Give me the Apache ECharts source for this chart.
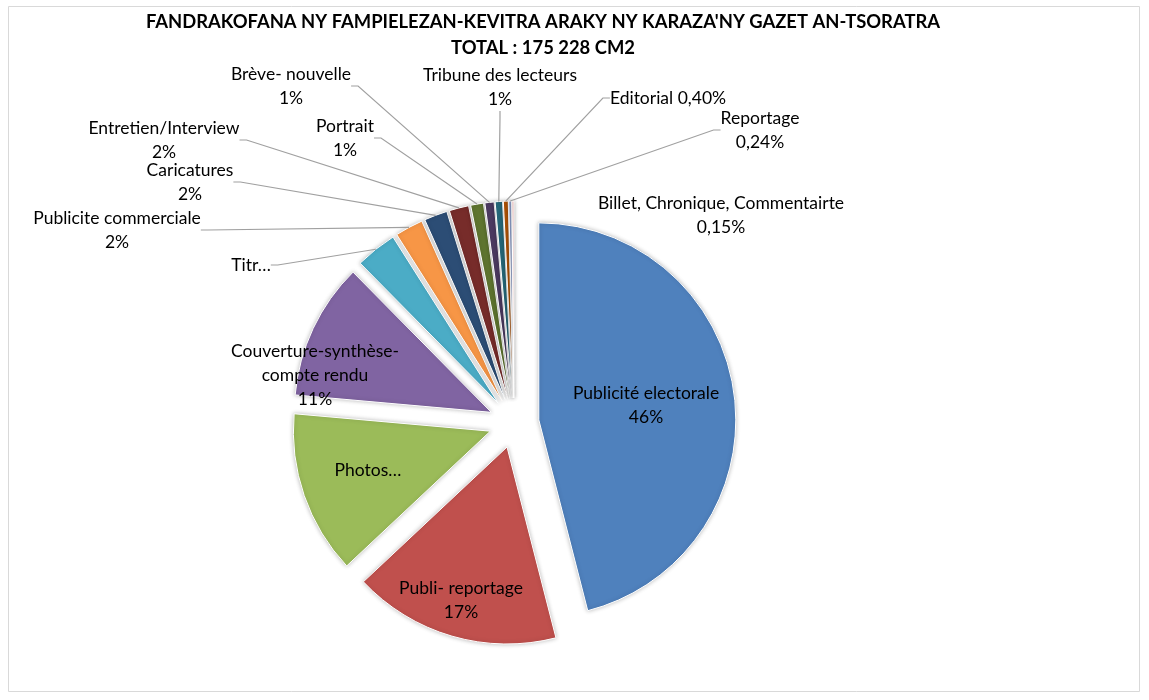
<!DOCTYPE html>
<html>
<head>
<meta charset="utf-8">
<script src="https://cdn.jsdelivr.net/npm/echarts@6/dist/echarts.min.js"></script>
<style>
    html, body { margin: 0; padding: 0; background: #fff; }
    #main { width: 1149px; height: 700px; }
</style>
</head>
<body>
<div id="main"></div>
<script>
// données
var categories = ['Publicité electorale', 'Publi- reportage', 'Photos…', 'Couverture-synthèse-compte rendu',
    'Titr…', 'Publicite commerciale', 'Caricatures', 'Entretien/Interview', 'Portrait', 'Brève- nouvelle',
    'Tribune des lecteurs', 'Editorial', 'Reportage', 'Billet, Chronique, Commentairte'];
var values = [46.0, 17.0, 13.4, 11.2, 3.4, 2.3, 1.9, 1.6, 1.05, 0.75, 0.6, 0.40, 0.24, 0.15];
var labelTexts = ['Publicité electorale\n46%', 'Publi- reportage\n17%', 'Photos…', 'Couverture-synthèse-\ncompte rendu\n11%',
    'Titr…', 'Publicite commerciale\n2%', 'Caricatures\n2%', 'Entretien/Interview\n2%', 'Portrait\n1%',
    'Brève- nouvelle\n1%', 'Tribune des lecteurs\n1%', 'Editorial 0,40%', 'Reportage\n0,24%',
    'Billet, Chronique, Commentairte\n0,15%'];

// couleurs (palette Excel)
var colors = ['#4F81BD', '#C0504D', '#9BBB59', '#8064A2', '#4BACC6', '#F79646', '#2C4D75', '#772C2A',
    '#5F7530', '#4D3B62', '#276A7C', '#B65708', '#95A6D3', '#E8A3A1'];

// position des étiquettes (centre du texte)
var labelPos = [[646, 405], [461, 600], [368, 470], [315, 375], [251, 265], [117, 230], [190, 182],
    [164, 140], [345, 138], [291, 86], [500, 87], [668, 98], [760, 130], [721, 215]];
var noLine = [0, 1, 2, 3, 13];

var font = 'Lato';
var cx = 514, cy = 423, r = 197, explode = 25;

// secteurs éclatés
var sliceData = [];
// même données, transparentes, pour porter les étiquettes
var labelData = [];
for (var i = 0; i < categories.length; i++) {
    sliceData.push({
        name: categories[i],
        value: values[i],
        selected: true,
        itemStyle: { color: colors[i] }
    });
    labelData.push({
        name: categories[i],
        value: values[i],
        label: { formatter: labelTexts[i] },
        labelLine: { show: noLine.indexOf(i) < 0 }
    });
}

var chart = echarts.init(document.getElementById('main'));

var option = {
    animation: false,
    backgroundColor: '#fff',
    graphic: [
        {
            type: 'rect',
            shape: { x: 8.5, y: 6.5, width: 1131, height: 685 },
            style: { fill: 'none', stroke: '#d9d9d9', lineWidth: 1 },
            silent: true
        },
        {
            type: 'text',
            style: {
                x: 543, y: 22, text: "FANDRAKOFANA NY FAMPIELEZAN-KEVITRA ARAKY NY KARAZA'NY GAZET AN-TSORATRA",
                textAlign: 'center', textVerticalAlign: 'middle',
                font: 'bold 18.4px ' + font, fill: '#000'
            }
        },
        {
            type: 'text',
            style: {
                x: 543, y: 48, text: 'TOTAL : 175 228 CM2',
                textAlign: 'center', textVerticalAlign: 'middle',
                font: 'bold 18.4px ' + font, fill: '#000'
            }
        }
    ],
    series: [
        {
            type: 'pie',
            center: [cx, cy],
            radius: r,
            startAngle: 90,
            clockwise: true,
            selectedMode: 'multiple',
            selectedOffset: explode,
            label: { show: false },
            labelLine: { show: false },
            itemStyle: {
                borderColor: '#fff',
                borderWidth: 1,
                shadowBlur: 4,
                shadowColor: 'rgba(0,0,0,0.25)'
            },
            emphasis: { disabled: true },
            silent: true,
            data: sliceData
        },
        {
            type: 'pie',
            center: [cx, cy],
            radius: r + explode,
            startAngle: 90,
            clockwise: true,
            avoidLabelOverlap: false,
            silent: true,
            z: 3,
            itemStyle: { color: 'rgba(0,0,0,0)', borderWidth: 0 },
            label: {
                fontFamily: font,
                fontSize: 17.5,
                color: '#000',
                lineHeight: 24,
                align: 'center'
            },
            labelLine: {
                length: 10,
                length2: 7,
                lineStyle: { color: '#a0a0a0', width: 1.2 }
            },
            labelLayout: function (p) {
                var pos = labelPos[p.dataIndex];
                return { x: pos[0], y: pos[1], align: 'center', verticalAlign: 'middle' };
            },
            emphasis: { disabled: true },
            data: labelData
        }
    ]
};

chart.setOption(option);
</script>
</body>
</html>
